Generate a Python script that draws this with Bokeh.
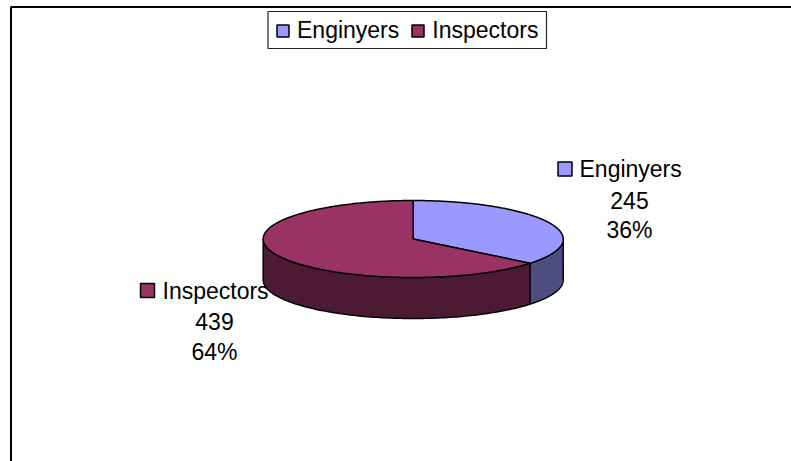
import numpy as np
from bokeh.plotting import figure
from bokeh.models import Range1d, Legend, LegendItem
from bokeh.embed import file_html
from bokeh.resources import INLINE
from bokeh.core.properties import value

categories = ["Enginyers", "Inspectors"]
values = [245, 439]
percents = ["36%", "64%"]
top_colors = ["#9999FF", "#993366"]
side_colors = ["#4D4D80", "#4D1A33"]

W, H = 791, 461
CX, CY, RX, RY, DEPTH = 412.7, 238.5, 150, 38.5, 41
FONT = "Liberation Sans"
FS = "23px"

p = figure(width=W, height=H, output_backend="svg", toolbar_location=None,
           x_range=Range1d(0, W), y_range=Range1d(H, 0),
           min_border=0, outline_line_color=None, background_fill_color="white",
           border_fill_color="white")
p.xaxis.visible = False
p.yaxis.visible = False
p.grid.visible = False

# slice angles, clockwise from twelve o'clock
fracs = np.array(values) / sum(values)
edges = np.concatenate([[0], np.cumsum(fracs)]) * 2 * np.pi

def px(t):
    return CX + RX * np.sin(t)
def py(t):
    return CY - RY * np.cos(t)

# sides (only the front half, pi/2..3pi/2, is visible)
for i in range(2):
    a, b = max(edges[i], np.pi / 2), min(edges[i + 1], 3 * np.pi / 2)
    t = np.linspace(a, b, 120)
    xs = np.concatenate([px(t), px(t[::-1])])
    ys = np.concatenate([py(t), py(t[::-1]) + DEPTH])
    p.patch(xs, ys, fill_color=side_colors[i], line_color="black", line_width=1.5)

# top faces
tops = []
for i in range(2):
    t = np.linspace(edges[i], edges[i + 1], 240)
    xs = np.concatenate([[CX], px(t), [CX]])
    ys = np.concatenate([[CY], py(t), [CY]])
    tops.append(p.patch(xs, ys, fill_color=top_colors[i], line_color="black", line_width=1.5))

# chart frame
p.line([W, 10.5, 10.5], [6.5, 6.5, H], line_color="black", line_width=2)

# legend box
p.quad(left=[267.5], right=[546], top=[11], bottom=[48], fill_color="white", line_color="#222222", line_width=1.2)

# data labels
swatch_x = [564.5, 147]
swatch_y = [168.5, 290]
text_x = [579, 162]
center_x = [629, 214]
for i in range(2):
    p.rect([swatch_x[i]], [swatch_y[i]], 14, 14, fill_color=top_colors[i], line_color="black", line_width=1.5)
    p.text([text_x[i]], [swatch_y[i]], text=[categories[i]], text_font=value(FONT), text_font_size=FS,
           text_baseline="middle", text_align="left", text_color="black")
    p.text([center_x[i]], [swatch_y[i] + 31], text=[str(values[i])], text_font=value(FONT), text_font_size=FS,
           text_baseline="middle", text_align="center", text_color="black")
    p.text([center_x[i]], [swatch_y[i] + 61], text=[percents[i]], text_font=value(FONT), text_font_size=FS,
           text_baseline="middle", text_align="center", text_color="black")

legend = Legend(items=[LegendItem(label=c, renderers=[r]) for c, r in zip(categories, tops)],
                orientation="horizontal", location=(275, H - 44),
                label_text_font=FONT, label_text_font_size=FS, label_text_color="black",
                glyph_width=15, glyph_height=15, label_standoff=7, spacing=11,
                padding=7, margin=0, border_line_color=None,
                background_fill_alpha=0)
p.add_layout(legend, "center")

open("out.html", "w").write(file_html(p, INLINE))
